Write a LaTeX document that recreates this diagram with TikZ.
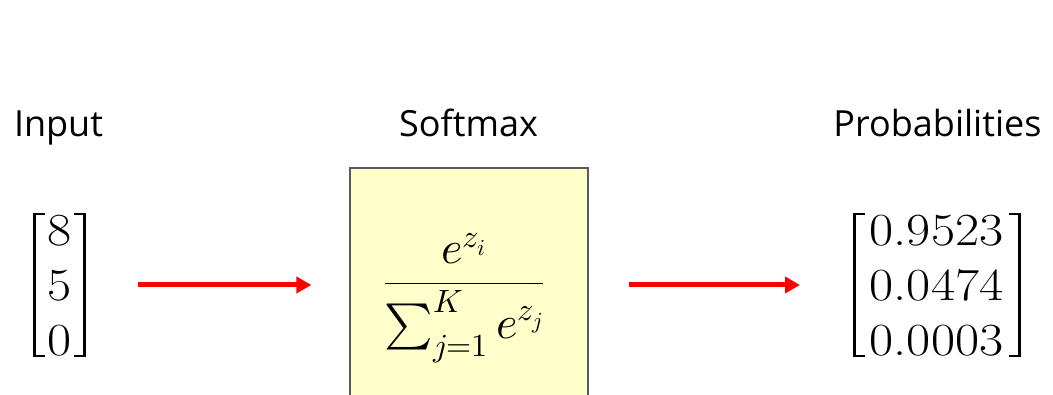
\documentclass[tikz,border=0pt]{standalone}
\usepackage{amsmath}
\usepackage{graphicx}
\usepackage{fontspec}
\usepackage{unicode-math}
\setmathfont{Latin Modern Math}
\setsansfont{Open Sans}
\usetikzlibrary{arrows.meta}
\definecolor{boxfill}{HTML}{FFFFCC}
\definecolor{boxline}{HTML}{595959}
\definecolor{arrowred}{HTML}{FF0000}
\newcommand{\wide}[1]{\scalebox{1.14}[1]{#1}}
\begin{document}
\begin{tikzpicture}[x=1pt,y=-1pt,
  headtxt/.style={font=\sffamily\fontsize{36}{42}\selectfont, anchor=base, inner sep=0pt},
  cell/.style={font=\fontsize{46}{55}\selectfont, anchor=base, inner sep=0pt},
  brkv/.style={line width=3.2pt, line cap=butt},
  brka/.style={line width=2.2pt, line cap=butt},
  flow/.style={draw=arrowred, line width=5pt, -{Triangle[length=15pt,width=16pt]}},
  softbox/.style={draw=boxline, fill=boxfill, line width=1.2pt, minimum width=238pt, minimum height=234pt, inner sep=0pt}]
\useasboundingbox (0,0) rectangle (1053,395);
% titles
\node[headtxt] (lin) at (58.5,137) {Input};
\node[headtxt] (lsoft) at (468.5,137) {Softmax};
\node[headtxt] (lprob) at (937.5,137) {Probabilities};
% softmax box
\node[softbox] (box) at (469,285) {};
\node[font=\fontsize{46}{55}\selectfont, inner sep=0pt] (frac) at (464,298) {$\displaystyle\frac{e^{z_i}}{\sum_{j=1}^{K} e^{z_j}}$};
% input vector
\node[cell] (i1) at (59.5,246) {\wide{8}};
\node[cell] (i2) at (59.5,301) {\wide{5}};
\node[cell] (i3) at (59.5,356) {\wide{0}};
\coordinate (inp) at (86,285);
\draw[brkv] (34.6,213) -- (34.6,357);
\draw[brka] (33,214.1) -- (45,214.1) (33,355.9) -- (45,355.9);
\draw[brkv] (84.4,213) -- (84.4,357);
\draw[brka] (86,214.1) -- (74,214.1) (86,355.9) -- (74,355.9);
% output vector
\node[cell] (o1) at (936.5,246) {\wide{0.9523}};
\node[cell] (o2) at (936.5,301) {\wide{0.0474}};
\node[cell] (o3) at (936.5,356) {\wide{0.0003}};
\coordinate (outp) at (853,285);
\draw[brkv] (854.6,213) -- (854.6,357);
\draw[brka] (853,214.1) -- (865,214.1) (853,355.9) -- (865,355.9);
\draw[brkv] (1019.4,213) -- (1019.4,357);
\draw[brka] (1021,214.1) -- (1009,214.1) (1021,355.9) -- (1009,355.9);
% arrows
\draw[flow, shorten <=52pt, shorten >=38pt] (inp) -- (box.west);
\draw[flow, shorten <=40pt, shorten >=53pt] (box.east) -- (outp);
\end{tikzpicture}
\end{document}
